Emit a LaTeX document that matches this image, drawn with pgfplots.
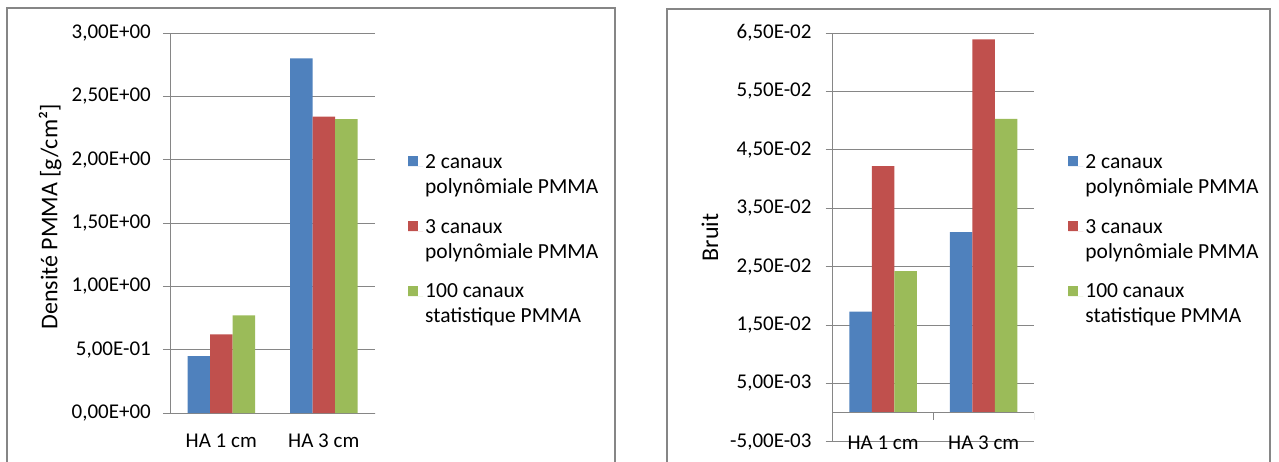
\documentclass[border=0pt]{standalone}
\usepackage{fontspec}
\setmainfont{Carlito}
\usepackage{pgfplots}
\pgfplotsset{compat=1.18}

\definecolor{xblue}{RGB}{79,129,189}
\definecolor{xred}{RGB}{192,80,77}
\definecolor{xgreen}{RGB}{155,187,89}
\definecolor{xgrid}{RGB}{134,134,134}

\pgfplotsset{
  xlchart/.style={
    scale only axis,
    anchor=south west,
    ybar=0pt, bar width=22.5pt,
    xmin=-0.5, xmax=1.5,
    xtick={0,1}, xticklabels={HA 1 cm, HA 3 cm},
    x tick style={draw=none},
    y tick style={xgrid, line width=0.75pt},
    tick align=outside, major tick length=7pt,
    scaled y ticks=false,
    ymajorgrids, grid style={xgrid, line width=0.75pt},
    axis lines*=left,
    axis line style={xgrid, line width=0.75pt, -},
    tick label style={font=\fontsize{21}{24}\selectfont, inner sep=0pt},
    label style={font=\fontsize{24}{28}\selectfont},
    legend style={draw=none, fill=none, inner sep=0pt, anchor=north west,
      font=\fontsize{21.5}{25}\selectfont,
      cells={anchor=west, align=left},
      column sep=0pt,
      row sep=20.5pt},
    legend cell align=left,
    legend image code/.code={%
      \fill[##1,draw=none] (0pt,8pt) rectangle (10pt,18pt);
      \path (0pt,8pt) -- (15pt,8pt);},
  }
}

\begin{document}
\begin{tikzpicture}
\path[use as bounding box] (0pt,0pt) rectangle (1279pt,461pt);

% chart frames
\draw[xgrid, line width=1.5pt] (7pt,-2pt) -- (7pt,453pt) -- (615pt,453pt) -- (615pt,-2pt);
\draw[xgrid, line width=1.5pt] (667pt,-2pt) -- (667pt,452pt) -- (1270pt,452pt) -- (1270pt,-2pt);

% left: density
\begin{axis}[xlchart,
    at={(170pt,48pt)}, width=205pt, height=380pt,
    ymin=0, ymax=3,
    ytick={0,0.5,1,1.5,2,2.5,3},
    yticklabels={{0,00E+00},{5,00E-01},{1,00E+00},{1,50E+00},{2,00E+00},{2,50E+00},{3,00E+00}},
    yticklabel style={xshift=-12pt},
    xticklabel style={yshift=-14pt},
    ylabel={Densité PMMA [g/cm²]},
    ylabel style={at={(axis description cs:-0.585,0.516)}, anchor=center},
    legend style={at={(1.161,0.687)}},
  ]
  \addplot[fill=xblue, draw=none] coordinates {(0,0.45) (1,2.80)};
  \addlegendentry{2 canaux\\polynômiale PMMA}
  \addplot[fill=xred, draw=none] coordinates {(0,0.62) (1,2.34)};
  \addlegendentry{3 canaux\\polynômiale PMMA}
  \addplot[fill=xgreen, draw=none] coordinates {(0,0.77) (1,2.32)};
  \addlegendentry{100 canaux\\statistique PMMA}
  \draw[xgrid, line width=0.75pt] (axis cs:0.5,0) -- ++(0pt,-7pt);
  \draw[xgrid, line width=0.75pt] (axis cs:1.5,0) -- ++(0pt,-7pt);
  \draw[xgrid, line width=0.75pt] (axis cs:-0.5,0) -- ++(0pt,-7pt);
\end{axis}

% right: noise
\begin{axis}[xlchart,
    at={(832.7pt,19.3pt)}, width=201.3pt, height=408.7pt,
    ymin=-0.005, ymax=0.065,
    ytick={-0.005,0.005,0.015,0.025,0.035,0.045,0.055,0.065},
    yticklabels={{-5,00E-03},{5,00E-03},{1,50E-02},{2,50E-02},{3,50E-02},{4,50E-02},{5,50E-02},{6,50E-02}},
    yticklabel style={xshift=-14pt},
    x axis line style={draw=none},
    xticklabel style={yshift=12.7pt},
    ylabel={Bruit},
    ylabel style={at={(axis description cs:-0.61,0.50)}, anchor=center},
    legend style={at={(1.170,0.709)}},
  ]
  \addplot[fill=xblue, draw=none] coordinates {(0,0.0173) (1,0.0309)};
  \addlegendentry{2 canaux\\polynômiale PMMA}
  \addplot[fill=xred, draw=none] coordinates {(0,0.0422) (1,0.0639)};
  \addlegendentry{3 canaux\\polynômiale PMMA}
  \addplot[fill=xgreen, draw=none] coordinates {(0,0.0242) (1,0.0503)};
  \addlegendentry{100 canaux\\statistique PMMA}
  \draw[xgrid, line width=0.75pt] (axis cs:-0.5,0) -- (axis cs:1.5,0);
  \draw[xgrid, line width=0.75pt] (axis cs:-0.5,0) -- ++(0pt,-7pt);
  \draw[xgrid, line width=0.75pt] (axis cs:0.5,0) -- ++(0pt,-7pt);
  \draw[xgrid, line width=0.75pt] (axis cs:1.5,0) -- ++(0pt,-7pt);
\end{axis}
\end{tikzpicture}
\end{document}
